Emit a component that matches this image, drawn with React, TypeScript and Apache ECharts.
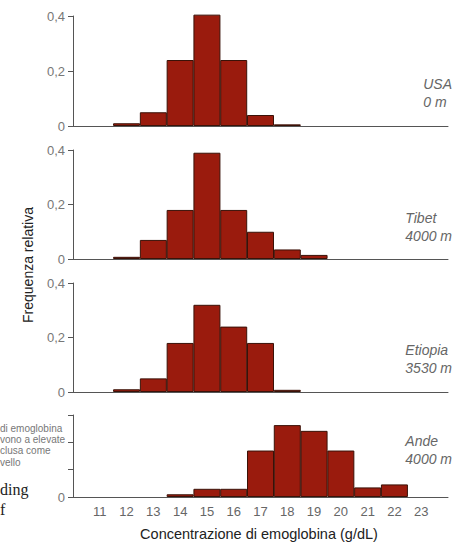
import React, { useEffect, useRef } from "react";
import * as echarts from "echarts";

const bins = [11, 12, 13, 14, 15, 16, 17, 18, 19, 20, 21, 22, 23];
const xTickLabels = ["11", "12", "13", "14", "15", "16", "17", "18", "19", "20", "21", "22", "23"];

const usa = [0, 0.01, 0.05, 0.24, 0.405, 0.24, 0.04, 0.006, 0, 0, 0, 0, 0];
const tibet = [0, 0.008, 0.07, 0.18, 0.39, 0.18, 0.1, 0.035, 0.015, 0, 0, 0, 0];
const etiopia = [0, 0.01, 0.05, 0.18, 0.32, 0.24, 0.18, 0.008, 0, 0, 0, 0, 0];
const ande = [0, 0, 0, 0.01, 0.03, 0.03, 0.17, 0.263, 0.242, 0.17, 0.035, 0.046, 0];

const panelNames = ["USA", "Tibet", "Etiopia", "Ande"];
const panelAltitudes = ["0 m", "4000 m", "3530 m", "4000 m"];
const yMaxes = [0.4, 0.4, 0.4, 0.3];
const yIntervals = [0.2, 0.2, 0.2, 0.1];

const yTitle = "Frequenza relativa";
const xTitle = "Concentrazione di emoglobina (g/dL)";
const bleedSmall = ["di emoglobina", "vono a elevate", "clusa come", "vello"];
const bleedSerif = ["ding", "f"];

const FONT = "Liberation Sans, Arial, sans-serif";

export default function App() {
  const ref = useRef<HTMLDivElement>(null);
  useEffect(() => {
    document.body.style.margin = "0";
    const chart = echarts.init(ref.current!, null, { renderer: "svg" });
    const series = [usa, tibet, etiopia, ande];
    const grids = [
      { top: 16, height: 110 },
      { top: 150, height: 109 },
      { top: 283, height: 109 },
      { top: 415, height: 82 },
    ];
    const option: any = {
      animation: false,
      backgroundColor: "#ffffff",
      grid: grids.map((g) => ({ left: 73, right: 12, top: g.top, height: g.height })),
      xAxis: grids.map((_, i) => ({
        type: "value",
        gridIndex: i,
        min: 10,
        max: 24,
        interval: 1,
        axisLine: { show: true, onZero: false, lineStyle: { color: "#555", width: 1 } },
        axisTick: { show: false },
        splitLine: { show: false },
        axisLabel: {
          show: i === 3,
          margin: 8,
          color: "#666",
          fontSize: 13,
          fontFamily: FONT,
          formatter: (v: number) => {
            const idx = bins.indexOf(v);
            return idx >= 0 ? xTickLabels[idx] : "";
          },
        },
      })),
      yAxis: grids.map((_, i) => ({
        type: "value",
        gridIndex: i,
        min: 0,
        max: yMaxes[i],
        interval: yIntervals[i],
        axisLine: { show: true, lineStyle: { color: "#555", width: 1 } },
        axisTick: { show: true, length: 5, lineStyle: { color: "#555" } },
        splitLine: { show: false },
        axisLabel: {
          margin: 8,
          color: "#777",
          fontSize: 13,
          fontFamily: FONT,
          formatter: (v: number) => {
            if (i === 3) return v === 0 ? "0" : "";
            return v === 0 ? "0" : v.toFixed(1).replace(".", ",");
          },
        },
      })),
      series: series.map((vals, i) => ({
        type: "bar",
        xAxisIndex: i,
        yAxisIndex: i,
        barWidth: 27,
        clip: false,
        data: bins.map((b, j) => [b, vals[j]]).filter((d) => d[1] > 0),
        itemStyle: { color: "#9a1b0d", borderColor: "#3a1208", borderWidth: 1 },
      })),
      graphic: [
        ...panelNames.map((n, i) => ({
          type: "text",
          right: 8,
          top: [75, 209, 341, 432][i],
          style: {
            text: n + "\n" + panelAltitudes[i],
            align: "right",
            fill: "#666",
            fontSize: 14,
            fontStyle: "italic",
            fontFamily: FONT,
            lineHeight: 18,
          },
        })),
        {
          type: "text",
          x: 28,
          y: 265,
          rotation: Math.PI / 2,
          style: {
            text: yTitle,
            align: "center",
            verticalAlign: "middle",
            fill: "#222",
            fontSize: 14,
            fontFamily: FONT,
          },
        },
        {
          type: "text",
          x: 259,
          y: 534,
          style: {
            text: xTitle,
            align: "center",
            verticalAlign: "middle",
            fill: "#222",
            fontSize: 14.5,
            fontFamily: FONT,
          },
        },
        ...bleedSmall.map((t, i) => ({
          type: "text",
          x: 0,
          y: [428, 439, 450, 462][i],
          style: {
            text: t,
            verticalAlign: "middle",
            fill: "#777",
            fontSize: 10,
            fontFamily: FONT,
          },
        })),
        ...bleedSerif.map((t, i) => ({
          type: "text",
          x: 0,
          y: [489, 509][i],
          style: {
            text: t,
            verticalAlign: "middle",
            fill: "#222",
            fontSize: 16,
            fontFamily: "Liberation Serif, serif",
          },
        })),
      ],
    };
    chart.setOption(option);
    return () => chart.dispose();
  }, []);
  return <div ref={ref} style={{ width: 460, height: 543 }} />;
}
